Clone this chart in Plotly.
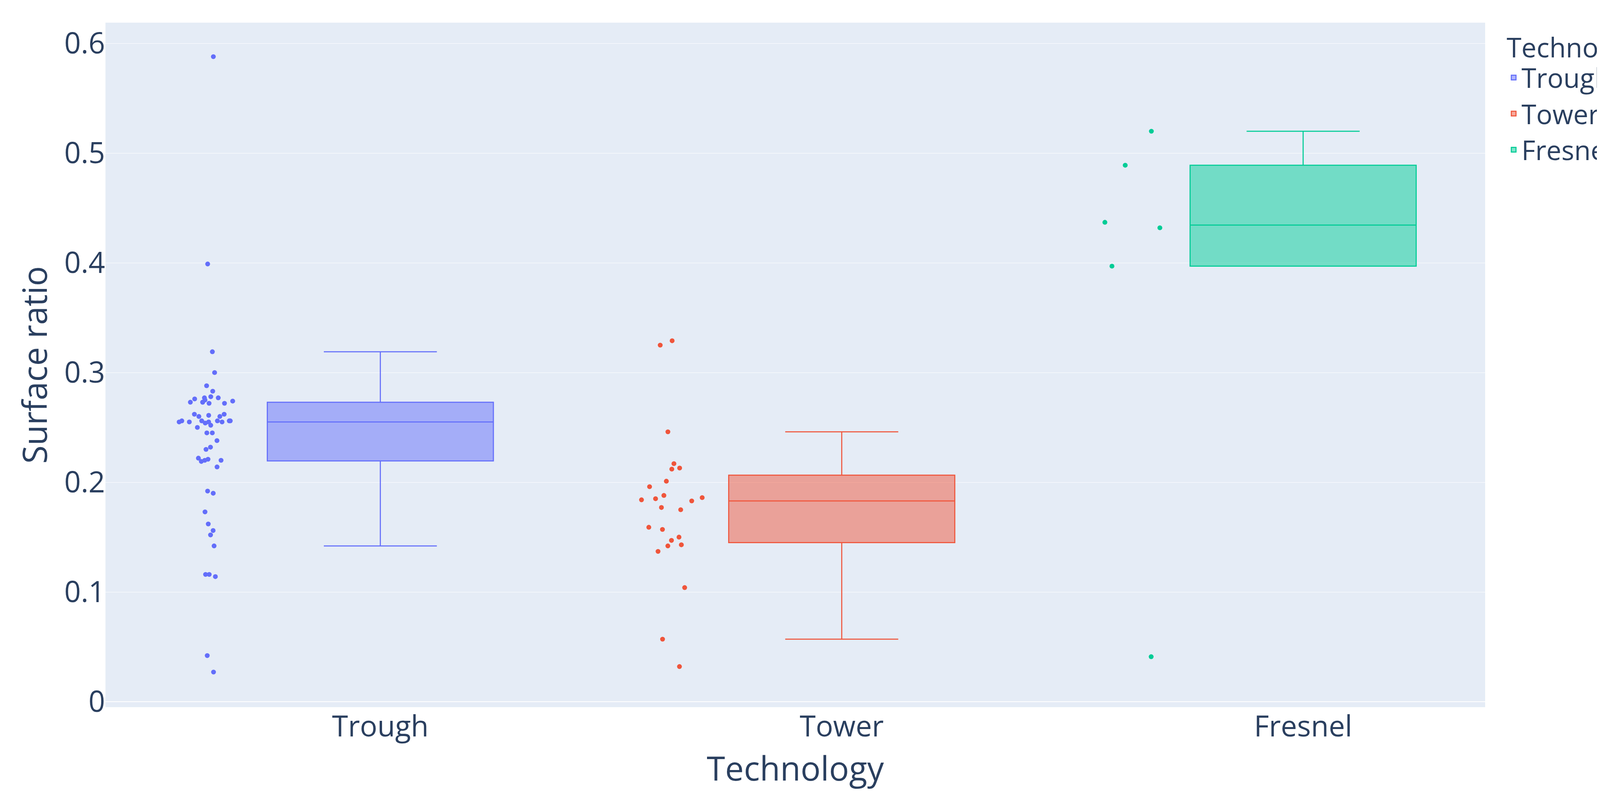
import plotly.graph_objects as go

categories = ["Trough", "Tower", "Fresnel"]
colors = ["#636efa", "#EF553B", "#00cc96"]

trough = [0.588, 0.399, 0.319, 0.300, 0.288, 0.283, 0.278, 0.277, 0.277, 0.276, 0.275, 0.274,
          0.273, 0.273, 0.273, 0.272, 0.272, 0.262, 0.262, 0.261, 0.260, 0.260, 0.256, 0.256,
          0.256, 0.256, 0.256, 0.255, 0.255, 0.255, 0.255, 0.254, 0.252, 0.250, 0.245, 0.245,
          0.238, 0.232, 0.230, 0.222, 0.221, 0.220, 0.220, 0.219, 0.214, 0.192, 0.190, 0.173,
          0.162, 0.156, 0.152, 0.142, 0.116, 0.116, 0.114, 0.042, 0.027]
tower = [0.329, 0.325, 0.246, 0.217, 0.213, 0.212, 0.201, 0.196, 0.188, 0.186, 0.185, 0.184,
         0.183, 0.177, 0.175, 0.159, 0.157, 0.150, 0.147, 0.143, 0.142, 0.137, 0.104, 0.057, 0.032]
fresnel = [0.520, 0.489, 0.437, 0.432, 0.397, 0.041]
series = [trough, tower, fresnel]

S = 2.75
fig = go.Figure()
for name, vals, col in zip(categories, series, colors):
    fig.add_trace(go.Box(
        y=vals, x=[name] * len(vals), name=name, legendgroup=name,
        marker=dict(color=col, size=4.5 * S), line=dict(color=col, width=1.0 * S),
        boxpoints="all", jitter=0.3, pointpos=-1.5, quartilemethod="exclusive",
        offsetgroup="a", alignmentgroup="a", width=0.49,
    ))

fig.update_layout(
    template="plotly",
    width=4317, height=2059,
    font=dict(size=27 * S, color="#2a3f5f"),
    margin=dict(l=262, r=523, t=50, b=256),
    boxmode="overlay",
    legend=dict(title=dict(text="Technology", font=dict(size=25 * S)),
                font=dict(size=25 * S), x=1.015, y=1, tracegroupgap=0),
    xaxis=dict(title=dict(text="Technology", font=dict(size=31 * S)),
               categoryorder="array", categoryarray=categories),
    yaxis=dict(title=dict(text="Surface ratio", font=dict(size=31 * S)),
               range=[-0.005, 0.619], dtick=0.1),
)
fig.write_html("out.html")
